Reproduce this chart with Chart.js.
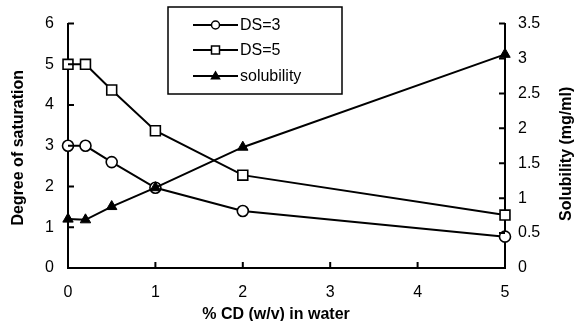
<!DOCTYPE html>
<html>
<head>
<meta charset="utf-8">
<script src="https://cdn.jsdelivr.net/npm/chart.js@4/dist/chart.umd.min.js"></script>
<style>
html,body{margin:0;padding:0;background:#fff;}
#wrap{width:574px;height:321px;position:relative;}
</style>
</head>
<body>
<div id="wrap"><canvas id="c" width="574" height="321"></canvas></div>
<script>
const cdPercent = [0, 0.2, 0.5, 1, 2, 5];
const ds3 = [3, 3, 2.6, 1.97, 1.4, 0.77];
const ds5 = [5, 5, 4.37, 3.37, 2.28, 1.3];
const solubility = [0.7, 0.69, 0.88, 1.15, 1.73, 3.06];
const seriesNames = ['DS=3', 'DS=5', 'solubility'];
const xTitle = '% CD (w/v) in water';
const yLeftTitle = 'Degree of saturation';
const yRightTitle = 'Solubility (mg/ml)';

const FONT = '"Liberation Sans", Arial, sans-serif';

function pts(ys){ return cdPercent.map((x,i)=>({x:x,y:ys[i]})); }

const inwardTicks = {
  id:'inwardTicks',
  afterDatasetsDraw(chart){
    const ctx = chart.ctx, a = chart.chartArea;
    ctx.save();
    ctx.strokeStyle = '#000'; ctx.lineWidth = 2;
    const L = 6;
    const x = chart.scales.x, yl = chart.scales.y, yr = chart.scales.y2;
    ctx.beginPath();
    x.ticks.forEach(t=>{ const p = x.getPixelForValue(t.value); ctx.moveTo(p, a.bottom); ctx.lineTo(p, a.bottom - L); });
    yl.ticks.forEach(t=>{ const p = yl.getPixelForValue(t.value); ctx.moveTo(a.left, p); ctx.lineTo(a.left + L, p); });
    yr.ticks.forEach(t=>{ const p = yr.getPixelForValue(t.value); ctx.moveTo(a.right, p); ctx.lineTo(a.right - L, p); });
    ctx.stroke();
    ctx.restore();
  }
};

const axisTitles = {
  id:'axisTitles',
  afterDraw(chart){
    const ctx = chart.ctx, a = chart.chartArea;
    const midY = (a.top + a.bottom) / 2;
    ctx.save();
    ctx.fillStyle = '#000';
    ctx.font = 'bold 16px ' + FONT;
    ctx.textAlign = 'center'; ctx.textBaseline = 'middle';
    ctx.save(); ctx.translate(19, midY + 2); ctx.rotate(-Math.PI/2); ctx.fillText(yLeftTitle, 0, 0); ctx.restore();
    ctx.save(); ctx.translate(567, midY + 8); ctx.rotate(-Math.PI/2); ctx.fillText(yRightTitle, 0, 0); ctx.restore();
    ctx.fillText(xTitle, 276, 315);
    ctx.restore();
  }
};

function drawMarker(ctx, style, x, y, r){
  ctx.beginPath();
  if (style === 'circle') {
    ctx.arc(x, y, r, 0, Math.PI*2);
    ctx.fillStyle = '#fff'; ctx.fill(); ctx.stroke();
  } else if (style === 'rect') {
    ctx.rect(x - r, y - r, 2*r, 2*r);
    ctx.fillStyle = '#fff'; ctx.fill(); ctx.stroke();
  } else {
    const h = r * 1.7;
    ctx.moveTo(x, y - h*0.6);
    ctx.lineTo(x + r, y + h*0.4);
    ctx.lineTo(x - r, y + h*0.4);
    ctx.closePath();
    ctx.fillStyle = '#000'; ctx.fill(); ctx.stroke();
  }
}

const boxLegend = {
  id:'boxLegend',
  afterDraw(chart){
    const ctx = chart.ctx;
    ctx.save();
    ctx.strokeStyle = '#000';
    ctx.lineWidth = 1.5;
    ctx.fillStyle = '#fff';
    ctx.fillRect(168, 7, 174, 87);
    ctx.strokeRect(168, 7, 174, 87);
    const rows = [25, 50, 76];
    [0,1,2].forEach((di, i) => {
      const ds = chart.data.datasets[di];
      const y = rows[i];
      ctx.lineWidth = 1.8;
      ctx.beginPath(); ctx.moveTo(193, y); ctx.lineTo(238, y); ctx.stroke();
      ctx.lineWidth = 1.5;
      drawMarker(ctx, ds.pointStyle, 215.5, y, 4);
      ctx.fillStyle = '#000';
      ctx.font = '16px ' + FONT;
      ctx.textAlign = 'left'; ctx.textBaseline = 'middle';
      ctx.fillText(ds.label, 240, y + 1);
    });
    ctx.restore();
  }
};

const tickFont = {family: FONT, size: 16};
const numFmt = v => String(Math.round(v * 10) / 10);

new Chart(document.getElementById('c'), {
  type: 'line',
  data: {
    datasets: [
      {label: seriesNames[0], data: pts(ds3), yAxisID: 'y', pointStyle: 'circle', pointRadius: 5.5,
       borderColor: '#000', backgroundColor: '#fff', pointBorderColor: '#000', pointBackgroundColor: '#fff',
       borderWidth: 2, pointBorderWidth: 1.6, order: 1, clip: false},
      {label: seriesNames[1], data: pts(ds5), yAxisID: 'y', pointStyle: 'rect', pointRadius: 7,
       borderColor: '#000', backgroundColor: '#fff', pointBorderColor: '#000', pointBackgroundColor: '#fff',
       borderWidth: 2, pointBorderWidth: 1.6, order: 1, clip: false},
      {label: seriesNames[2], data: pts(solubility), yAxisID: 'y2', pointStyle: 'triangle', pointRadius: 6,
       borderColor: '#000', backgroundColor: '#000', pointBorderColor: '#000', pointBackgroundColor: '#000',
       borderWidth: 2, pointBorderWidth: 1, order: 0, clip: false}
    ]
  },
  options: {
    responsive: false,
    animation: false,
    layout: {padding: {top: 20, left: 0, right: 0, bottom: 0}},
    plugins: {legend: {display: false}, tooltip: {enabled: false}},
    scales: {
      x: {
        type: 'linear', min: 0, max: 5,
        ticks: {stepSize: 1, color: '#000', font: tickFont, padding: 15, maxRotation: 0, callback: numFmt},
        grid: {display: false, drawTicks: false},
        border: {display: true, color: '#000', width: 2},
        afterFit(s){ s.height = 53; }
      },
      y: {
        type: 'linear', position: 'left', min: 0, max: 6,
        ticks: {stepSize: 1, color: '#000', font: tickFont, padding: 14, callback: numFmt},
        grid: {display: false, drawTicks: false},
        border: {display: true, color: '#000', width: 2},
        afterFit(s){ s.width = 68; }
      },
      y2: {
        type: 'linear', position: 'right', min: 0, max: 3.5,
        ticks: {stepSize: 0.5, color: '#000', font: tickFont, padding: 13, callback: numFmt},
        grid: {display: false, drawTicks: false},
        border: {display: true, color: '#000', width: 2},
        afterFit(s){ s.width = 69; }
      }
    }
  },
  plugins: [inwardTicks, boxLegend, axisTitles]
});
</script>
</body>
</html>
